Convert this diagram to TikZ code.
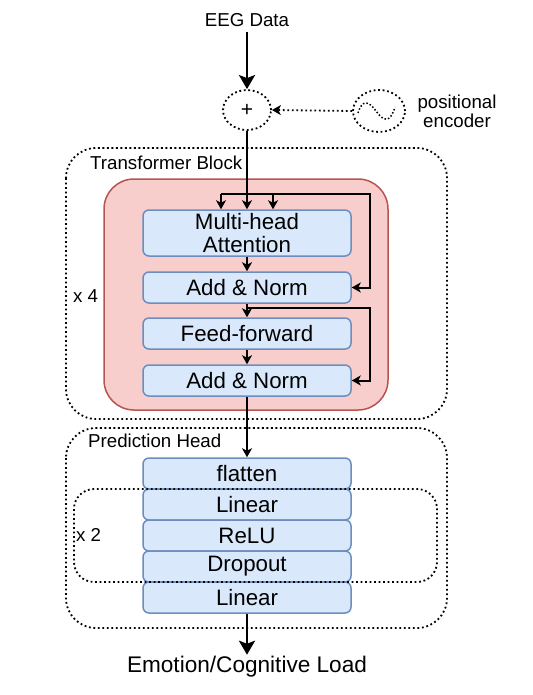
\documentclass[tikz,border=0pt]{standalone}
\usepackage{fontspec}
\setmainfont{Liberation Sans}
\usetikzlibrary{arrows.meta,shapes.geometric}
\definecolor{blueF}{HTML}{DAE8FC}
\definecolor{blueD}{HTML}{6C8EBF}
\definecolor{redF}{HTML}{F8CECC}
\definecolor{redD}{HTML}{B85450}
\tikzset{
  blk/.style={draw=blueD,fill=blueF,line width=1.5pt,rounded corners=6pt,minimum width=208pt,inner sep=0pt,font=\fontsize{22.3}{26}\selectfont},
  lbl/.style={inner sep=0pt,font=\fontsize{18.7}{22}\selectfont},
  dotline/.style={line width=1.8pt,dash pattern=on 1.8pt off 2.7pt},
  thin/.style={line width=2pt},
  thick/.style={line width=2.8pt},
  arr/.style={-{Stealth[length=9pt,width=10pt,inset=2.5pt]}},
  bigarr/.style={-{Stealth[length=14pt,width=16pt,inset=3pt]}}
}
\begin{document}
\begin{tikzpicture}[x=1pt,y=-1pt]
\useasboundingbox (0,0) rectangle (532,695);
% containers
\draw[dotline,rounded corners=30pt] (66,148) rectangle (447,419);
\node[lbl,anchor=west] (tbl) at (90,163) {Transformer Block};
\draw[draw=redD,fill=redF,line width=1.5pt,rounded corners=30pt] (104,179) rectangle (388,410);
\node[lbl,anchor=west] (x4) at (73,296) {x 4};
\draw[dotline,rounded corners=30pt] (66,428) rectangle (447,628);
\node[lbl,anchor=west] (phl) at (88,441) {Prediction Head};
% top
\node[lbl] (eeg) at (247,20) {EEG Data};
\node[draw,dotline,ellipse,minimum width=48pt,minimum height=40pt,inner sep=0pt,font=\fontsize{21}{24}\selectfont] (plus) at (247,110) {+};
\node[draw,dotline,ellipse,minimum width=52pt,minimum height=42pt,inner sep=0pt] (enc) at (379,111) {};
\draw[line width=1.5pt,dash pattern=on 1.5pt off 2pt] (358,113) .. controls (362,100) and (368,100) .. (376,111) .. controls (384,122) and (390,123) .. (395,107);
\node[lbl,align=center,font=\fontsize{18.7}{19}\selectfont] (encl) at (457,111) {positional\\encoder};
\draw[thick,bigarr] (eeg.south) ++(0,5) coordinate (eegs) (eegs) -- (plus.north);
\draw[dotline,-{Stealth[length=9pt,width=10pt,inset=2.5pt]}] (enc.west) -- (plus.east);
% transformer blocks
\node[blk,minimum height=46pt,align=center,font=\fontsize{22.3}{23}\selectfont] (mha) at (247,233) {Multi-head\\Attention};
\node[blk,minimum height=31pt] (an1) at (247,287.5) {Add \& Norm};
\node[blk,minimum height=31pt] (ff) at (247,333.5) {Feed-forward};
\node[blk,minimum height=31pt] (an2) at (247,380.5) {Add \& Norm};
\coordinate (s1) at (247,194);
\coordinate (s1l) at (221,194);
\coordinate (s1r) at (273,194);
\coordinate (r1) at (370,194);
\coordinate (s2) at (247,308);
\coordinate (r2) at (370,308);
\draw[thin] (plus.south) -- (s1);
\draw[thin,arr] (s1) -- (mha.north);
\draw[thin,arr] (s1l) -- (s1l |- mha.north);
\draw[thin,arr] (s1r) -- (s1r |- mha.north);
\draw[thin,arr] (s1l) -- (r1) |- (an1.east);
\draw[thin,arr] (mha.south) -- (an1.north);
\draw[thin,arr] (an1.south) -- (ff.north);
\draw[thin,arr] (s2) -- (r2) |- (an2.east);
\draw[thin,arr] (ff.south) -- (an2.north);
% prediction head
\node[blk,minimum height=31pt] (fl) at (247,473.5) {flatten};
\node[blk,minimum height=31pt] (lin1) at (247,504.5) {Linear};
\node[blk,minimum height=31pt] (relu) at (247,535.5) {ReLU};
\node[blk,minimum height=31pt] (drop) at (247,566.5) {Dropout};
\node[blk,minimum height=31pt] (lin2) at (247,597.5) {Linear};
\draw[dotline,rounded corners=20pt] (74,489) rectangle (437,582);
\node[lbl,anchor=west] (x2) at (76,535) {x 2};
\draw[thick,arr] (an2.south) -- (fl.north);
\node[inner sep=0pt,font=\fontsize{22.6}{26}\selectfont] (out) at (247,667) {Emotion/Cognitive Load};
\draw[thick,bigarr] (lin2.south) -- ++(0,41) coordinate (oute);
\end{tikzpicture}
\end{document}
